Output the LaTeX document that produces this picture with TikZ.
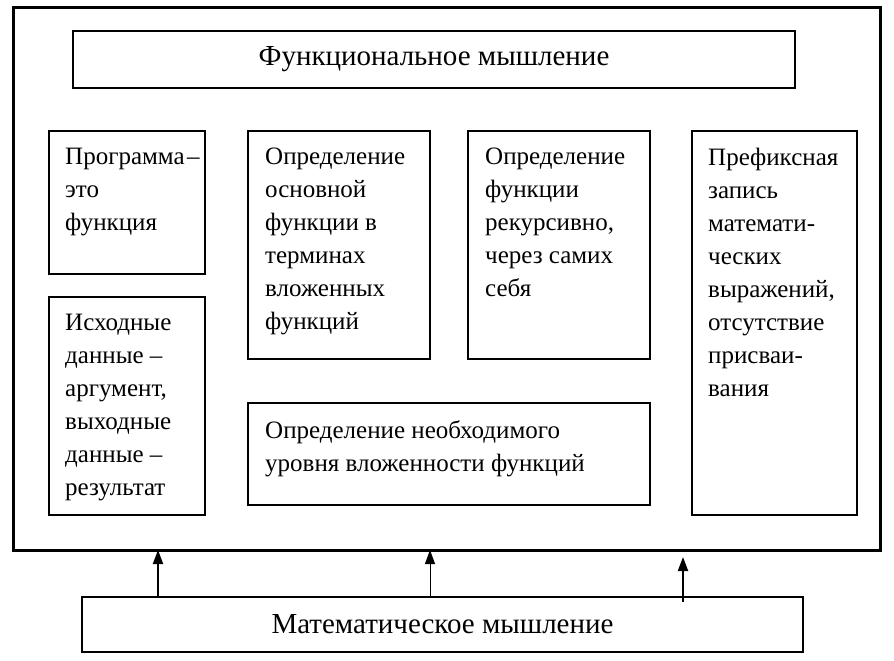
\documentclass[tikz,border=0pt]{standalone}
\usepackage{fontspec}
\setmainfont{Liberation Serif}
\usetikzlibrary{arrows.meta}
\tikzset{
  frame/.style={draw, line width=3pt, inner sep=0pt, outer sep=0pt, anchor=north west},
  box/.style={draw, line width=1.6pt, inner sep=0pt, outer sep=0pt, anchor=north west},
  txt/.style={anchor=north west, align=left, inner sep=0pt, font=\fontsize{25}{33}\selectfont},
  big/.style={inner sep=0pt, font=\fontsize{29}{32}\selectfont},
  uparrow/.style={-{Triangle[length=14pt,width=10pt]}, line width=2pt},
  thinarrow/.style={-{Triangle[length=14pt,width=10pt]}, line width=1pt},
}
\begin{document}
\begin{tikzpicture}[x=1pt,y=-1pt]
\useasboundingbox (0,0) rectangle (894,661);
% outer frame
\node[frame, minimum width=867pt, minimum height=542pt] (outer) at (13,8) {};
% title
\node[box, minimum width=722pt, minimum height=57pt] (title) at (73,31) {};
\node[big] (titletxt) at (title.center) {Функциональное мышление};
% boxes
\node[box, minimum width=156pt, minimum height=143pt] (b1) at (49,131) {};
\node[box, minimum width=182pt, minimum height=228pt] (b2) at (248,131) {};
\node[box, minimum width=182pt, minimum height=228pt] (b3) at (468,131) {};
\node[box, minimum width=165pt, minimum height=384pt] (b4) at (692,131) {};
\node[box, minimum width=156pt, minimum height=218pt] (b5) at (49,297) {};
\node[box, minimum width=402pt, minimum height=102pt] (b6) at (248,403) {};
% texts
\node[txt] (t1) at ([shift={(16,17)}]b1.north west) {Программа\hspace{0.1em}–\\это\\функция};
\node[txt] (t2) at ([shift={(17,17)}]b2.north west) {Определение\\основной\\функции в\\терминах\\вложенных\\функций};
\node[txt] (t3) at ([shift={(17,17)}]b3.north west) {Определение\\функции\\рекурсивно,\\через самих\\себя};
\node[txt] (t4) at ([shift={(16,17)}]b4.north west) {Префиксная\\запись\\математи-\\ческих\\выражений,\\отсутствие\\присваи-\\вания};
\node[txt] (t5) at ([shift={(16,17)}]b5.north west) {Исходные\\данные –\\аргумент,\\выходные\\данные –\\результат};
\node[txt] (t6) at ([shift={(17,17)}]b6.north west) {Определение необходимого\\уровня вложенности функций};
% bottom box
\node[box, minimum width=721pt, minimum height=55pt] (bot) at (82,597) {};
\node[big] (bottxt) at (bot.center) {Математическое мышление};
% arrows
\coordinate (a1) at (158,0);
\coordinate (a2) at (430,0);
\coordinate (a3) at (683,0);
\draw[uparrow] (bot.north -| a1) -- (outer.south -| a1);
\draw[thinarrow] (bot.north -| a2) -- (outer.south -| a2);
\draw[uparrow] ([yshift=-5pt]bot.north -| a3) -- ([yshift=-7pt]outer.south -| a3);
\end{tikzpicture}
\end{document}
